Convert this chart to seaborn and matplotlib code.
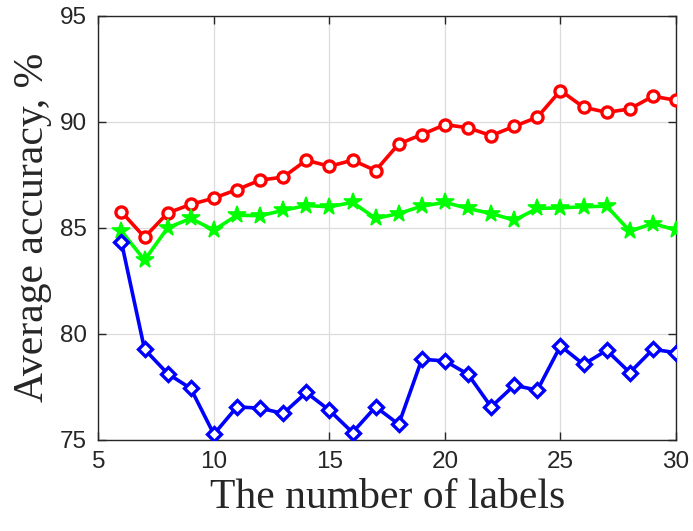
import matplotlib
matplotlib.use("Agg")
import matplotlib.pyplot as plt
import seaborn as sns
import pandas as pd

# Number of labels on the x axis
labels = list(range(6, 31))

# Average accuracy (%) of each method
acc_red = [85.75, 84.55, 85.7, 86.1, 86.4, 86.8, 87.25, 87.39, 88.19, 87.9, 88.19, 87.7,
           88.96, 89.4, 89.87, 89.72, 89.35, 89.79, 90.22, 91.48, 90.69, 90.45, 90.61,
           91.21, 91.02]
acc_green = [84.84, 83.47, 85.0, 85.44, 84.89, 85.59, 85.57, 85.82, 86.05, 85.99, 86.2,
             85.44, 85.67, 86.02, 86.2, 85.91, 85.67, 85.36, 85.91, 85.94, 85.99, 86.02,
             84.84, 85.2, 84.89]
acc_blue = [84.32, 79.26, 78.11, 77.41, 75.25, 76.54, 76.48, 76.23, 77.22, 76.38, 75.33,
            76.54, 75.72, 78.79, 78.71, 78.08, 76.54, 77.56, 77.33, 79.42, 78.55, 79.21,
            78.16, 79.26, 79.1]

x_ticks = [5, 10, 15, 20, 25, 30]
y_ticks = [75, 80, 85, 90, 95]

sns.set_style("white")
plt.rcParams["font.family"] = ["Liberation Sans", "DejaVu Sans"]

fig = plt.figure(figsize=(6.93, 5.31), dpi=100)
ax = fig.add_axes([0.1419, 0.1723, 0.8336, 0.7976])

df = pd.DataFrame({"labels": labels, "red": acc_red, "green": acc_green, "blue": acc_blue})

sns.lineplot(data=df, x="labels", y="red", ax=ax, color="#FF0000", lw=2.6,
             marker="o", markersize=8, markerfacecolor="white",
             markeredgecolor="#FF0000", markeredgewidth=2.4, zorder=3)
sns.lineplot(data=df, x="labels", y="green", ax=ax, color="#00FF00", lw=2.6,
             marker="*", markersize=13, markerfacecolor="#00FF00",
             markeredgecolor="#00FF00", markeredgewidth=1.2, zorder=3)
sns.lineplot(data=df, x="labels", y="blue", ax=ax, color="#0000FF", lw=2.6,
             marker="D", markersize=7.5, markerfacecolor="white",
             markeredgecolor="#0000FF", markeredgewidth=2.4, zorder=3)

ax.set_xlim(5, 30)
ax.set_ylim(75, 95)
ax.set_xticks(x_ticks)
ax.set_yticks(y_ticks)
ax.set_xticklabels([str(t) for t in x_ticks])
ax.set_yticklabels([str(t) for t in y_ticks])

ax.grid(True, color="#dcdcdc", lw=0.9)
ax.set_axisbelow(True)
for side in ["top", "right", "bottom", "left"]:
    ax.spines[side].set_visible(True)
    ax.spines[side].set_color("#262626")
    ax.spines[side].set_linewidth(1.0)

ax.tick_params(axis="both", which="major", direction="in", length=6, width=1.0,
               colors="#262626", labelsize=17.5, bottom=True, left=True,
               top=True, right=True, pad=8)

serif = {"family": ["Liberation Serif", "DejaVu Serif"], "size": 30, "color": "#262626"}
ax.set_xlabel("The number of labels", fontdict=serif, labelpad=4)
ax.set_ylabel("Average accuracy, %", fontdict=serif, labelpad=6)

fig.savefig("out.png", dpi=100)
